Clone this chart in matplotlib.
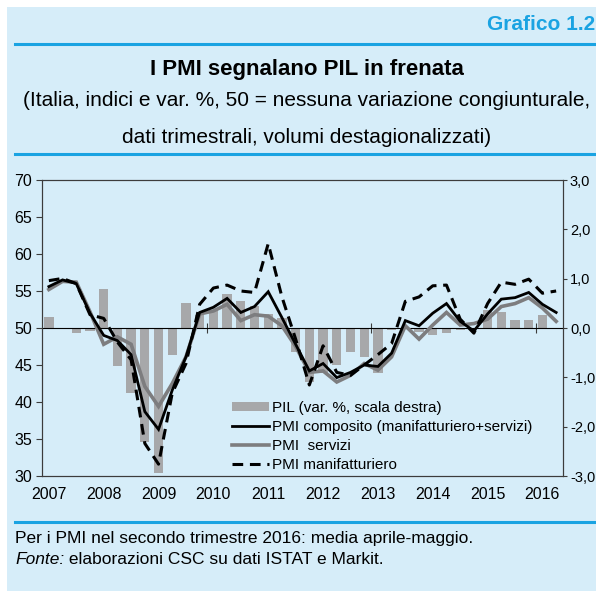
import numpy as np
import matplotlib
matplotlib.use("Agg")
from matplotlib import pyplot as plt
from matplotlib.lines import Line2D
from matplotlib.patches import Patch, Rectangle

# dati trimestrali 2007T1 - 2016T2
years = [str(y) for y in range(2007, 2017)]
quarters = [f"{y}T{q}" for y in range(2007, 2017) for q in range(1, 5)][:38]

pil = [0.23, -0.03, -0.11, -0.06, 0.80, -0.78, -1.31, -2.32, -2.93, -0.55,
       0.51, 0.27, 0.37, 0.69, 0.55, 0.45, 0.29, 0.20, -0.48, -1.09,
       -0.92, -0.75, -0.49, -0.58, -0.92, -0.05, -0.02, -0.09, -0.14, -0.10,
       -0.05, -0.02, 0.37, 0.32, 0.17, 0.17, 0.26, np.nan]

pmi_composito = [55.6, 56.5, 56.0, 52.0, 49.0, 48.3, 46.4, 38.7, 36.3, 41.6,
                 46.1, 52.1, 52.8, 54.0, 52.1, 52.9, 54.9, 51.4, 47.8, 44.2,
                 45.2, 43.3, 44.0, 45.0, 44.8, 46.6, 51.0, 50.3, 52.0, 53.3,
                 50.9, 49.6, 51.9, 53.9, 54.1, 54.8, 53.2, 52.1]

pmi_servizi = [55.2, 56.3, 56.2, 52.2, 47.8, 48.8, 47.8, 42.1, 39.4, 42.5,
               46.1, 51.9, 52.3, 53.2, 51.0, 51.8, 51.6, 50.3, 47.5, 44.0,
               44.2, 42.7, 43.6, 45.2, 44.3, 46.1, 50.3, 48.5, 50.4, 52.1,
               50.4, 50.6, 51.2, 52.9, 53.3, 54.1, 52.7, 50.9]

pmi_manifatturiero = [56.4, 56.7, 56.0, 51.8, 51.3, 48.1, 45.7, 34.4, 31.6, 41.2,
                      45.2, 53.2, 55.4, 55.8, 55.0, 54.8, 61.4, 54.2, 48.5, 42.3,
                      47.6, 44.0, 43.6, 45.0, 46.4, 47.9, 53.6, 54.2, 55.7, 55.8,
                      51.2, 49.3, 53.3, 56.2, 55.9, 56.6, 54.7, 55.0]

left_ticks = [30, 35, 40, 45, 50, 55, 60, 65, 70]
right_ticks = [-3, -2, -1, 0, 1, 2, 3]
right_labels = ["-3,0", "-2,0", "-1,0", "0,0", "1,0", "2,0", "3,0"]

bg = "#d6edf9"
blue = "#1aa3e2"
plt.rcParams["font.family"] = ["Liberation Sans", "DejaVu Sans"]

W, H = 596, 591
fig = plt.figure(figsize=(W / 100, H / 100), dpi=100)
fig.patch.set_facecolor("white")
fig.patches.append(Rectangle((7 / W, 0), 1, 1 - 7 / H, transform=fig.transFigure,
                             facecolor=bg, edgecolor="none", zorder=-5))

ax = fig.add_axes([42 / W, 1 - 476 / H, 521 / W, 296 / H])
ax2 = ax.twinx()
ax.set_zorder(ax2.get_zorder() + 1)
ax.patch.set_visible(False)
ax2.patch.set_visible(False)

x = np.arange(len(quarters))
bar_color = "#a7a8aa"
ax2.bar(x, pil, width=0.68, color=bar_color, zorder=1)
ax2.set_ylim(-3, 3)
ax2.set_yticks(right_ticks, labels=right_labels)

ax.plot(x, pmi_servizi, color="#7d7d7f", lw=2.6, solid_joinstyle="miter")
ax.plot(x, pmi_composito, color="black", lw=2.0, solid_joinstyle="miter")
ax.plot(x, pmi_manifatturiero, color="black", lw=2.2, ls=(0, (3.5, 2.2)))

ax.set_xlim(-0.5, len(quarters) - 0.5)
ax.set_ylim(30, 70)
ax.set_yticks(left_ticks)
ax.set_xticks(x[::4], labels=years)
ax.tick_params(axis="x", length=0, pad=8, labelsize=11.5)
ax.tick_params(axis="y", direction="out", length=4, width=0.8, pad=3, labelsize=11.5)
ax2.tick_params(axis="y", direction="out", length=3, width=0.8, pad=2, labelsize=10.5)

spine_color = "#3c3c3c"
for a in (ax, ax2):
    for s in a.spines.values():
        s.set_color(spine_color)
        s.set_linewidth(0.8)
ax.tick_params(colors=spine_color, labelcolor="black")
ax2.tick_params(colors=spine_color, labelcolor="black")

# asse delle categorie a quota 50, tacche ogni tre anni
sec = ax.secondary_xaxis(0.5)
sec.set_xticks([4 * k - 0.5 for k in (3, 6, 9)], labels=[])
sec.tick_params(direction="inout", length=7, width=0.8, color=spine_color)
sec.spines["bottom"].set_color("black")
sec.spines["bottom"].set_linewidth(0.9)

handles = [Patch(facecolor=bar_color, edgecolor="none"),
           Line2D([], [], color="black", lw=2.0),
           Line2D([], [], color="#7d7d7f", lw=2.6),
           Line2D([], [], color="black", lw=2.2, ls=(0, (3.5, 2.2)))]
labels = ["PIL (var. %, scala destra)",
          "PMI composito (manifatturiero+servizi)",
          "PMI  servizi",
          "PMI manifatturiero"]
ax.legend(handles, labels, loc="upper left", bbox_to_anchor=((232 - 42) / 521, (476 - 401) / 296),
          frameon=False, fontsize=11, handlelength=2.4, handleheight=0.6,
          handletextpad=0.2, labelspacing=0.33, borderpad=0, borderaxespad=0)

# intestazione
fig.text(0.998, 1 - 25 / H, "Grafico 1.2", ha="right", va="center", color=blue,
         fontsize=15, fontweight="bold")
for yy in (44, 154, 522):
    fig.add_artist(Line2D([15 / W, 1], [1 - yy / H] * 2, color=blue, lw=2.2,
                          transform=fig.transFigure))
fig.text(307 / W, 1 - 70 / H, "I PMI segnalano PIL in frenata", ha="center", va="center",
         fontsize=16, fontweight="bold")
fig.text(307 / W, 1 - 101 / H, "(Italia, indici e var. %, 50 = nessuna variazione congiunturale,",
         ha="center", va="center", fontsize=15)
fig.text(307 / W, 1 - 137 / H, "dati trimestrali, volumi destagionalizzati)",
         ha="center", va="center", fontsize=15)

# note
fig.text(15 / W, 1 - 539 / H, "Per i PMI nel secondo trimestre 2016: media aprile-maggio.",
         ha="left", va="center", fontsize=12.5)
t1 = fig.text(15 / W, 1 - 560 / H, "Fonte:", ha="left", va="center", fontsize=12.5,
              style="italic")
fig.add_artist(plt.Annotation(" elaborazioni CSC su dati ISTAT e Markit.", xy=(1, 0),
                              xycoords=t1, va="bottom", ha="left", fontsize=12.5))

fig.savefig("out.png", dpi=100, facecolor=fig.get_facecolor())
